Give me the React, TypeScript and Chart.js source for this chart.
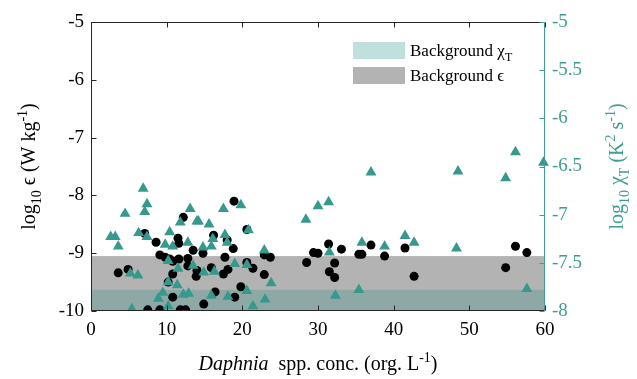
import { useEffect, useRef } from 'react';
import { Chart, registerables } from 'chart.js';

Chart.register(...registerables);

// Dissipation rate (left axis) vs. Daphnia concentration
const epsConc = [
  3.6, 4.9, 7.1, 8.6, 9.1, 9.8, 10.4, 10.8, 11.5, 11.6, 12.2, 12.8, 12.8, 13.5, 13.9, 10.8, 10.8,
  7.5, 9.1, 11.8, 12.5, 18.9, 20.6, 16.2, 18.0, 18.8, 14.8, 17.7, 20.6, 21.4, 15.9, 17.5, 18.1,
  22.9, 23.7, 22.9, 19.8, 16.4, 19.0, 14.9, 28.5, 31.4, 29.4, 30.0, 33.1, 32.2, 31.5, 32.2, 35.4,
  35.8, 37.0, 38.8, 41.5, 42.7, 56.1, 57.6, 54.8, 11.6, 10.2, 14.0,
];
const epsLog = [
  -9.34, -9.28, -8.66, -8.81, -9.03, -9.07, -9.1, -9.14, -8.74, -8.83, -8.38, -9.09, -9.22, -8.95,
  -9.4, -9.36, -9.76, -9.98, -9.98, -9.98, -9.98, -8.1, -8.59, -8.69, -8.77, -8.92, -9.0, -9.07,
  -9.16, -9.26, -9.25, -9.36, -9.28, -9.03, -9.07, -9.37, -9.58, -9.67, -9.76, -9.88, -9.16, -8.84,
  -8.99, -9.0, -8.93, -9.17, -9.32, -9.42, -9.02, -9.02, -8.86, -9.05, -8.91, -9.4, -8.88, -8.99,
  -9.25, -9.1, -9.5, -9.3,
];

// Temperature variance dissipation (right axis) vs. Daphnia concentration
const chiConc = [
  6.9, 7.4, 7.1, 4.5, 13.1, 11.8, 14.0, 2.6, 3.2, 3.6, 6.3, 7.4, 10.4, 9.8, 10.8, 12.8, 10.2, 11.5,
  13.5, 5.2, 6.2, 10.2, 11.4, 9.5, 8.9, 12.2, 12.9, 10.2, 5.4, 17.5, 19.8, 14.2, 15.6, 17.7, 16.1,
  18.0, 15.9, 14.8, 20.8, 22.9, 19.0, 20.6, 14.9, 16.3, 23.8, 20.6, 18.1, 23.0, 15.9, 21.4, 28.4,
  37.0, 30.0, 31.4, 31.5, 35.8, 38.8, 41.5, 42.7, 32.3, 35.4, 48.5, 56.1, 54.8, 59.8, 48.3, 57.6,
];
const chiLog = [
  -6.73, -6.89, -6.97, -6.99, -6.94, -7.08, -7.07, -7.23, -7.23, -7.33, -7.19, -7.23, -7.18, -7.31,
  -7.33, -7.29, -7.48, -7.56, -7.53, -7.61, -7.63, -7.7, -7.73, -7.81, -7.87, -7.83, -7.82, -7.95,
  -7.98, -6.94, -6.9, -7.07, -7.1, -7.21, -7.25, -7.29, -7.33, -7.34, -7.16, -7.37, -7.51, -7.52,
  -7.6, -7.59, -7.71, -7.79, -7.85, -7.88, -7.84, -7.95, -7.05, -6.56, -6.91, -6.87, -7.39, -7.29,
  -7.33, -7.22, -7.29, -7.84, -7.78, -6.55, -6.35, -6.62, -6.46, -7.35, -7.77,
];

// Background levels (upper edge of the shaded bands)
const bgEpsTop = -9.05;
const bgChiTop = -7.78;

const xRange = [0, 60];
const epsRange = [-10, -5];
const chiRange = [-8, -5];

const SERIF = 'Liberation Serif';
const TEAL = '#36998e';
const TEAL_AXIS = '#3e9e93';
const GRAY_BAND = '#b3b3b3';
const TEAL_BAND = '#8ea8a5';
const TEAL_SWATCH = '#bfe0dd';

Chart.defaults.font.family = SERIF;

type Seg = { t: string; it?: boolean; sub?: boolean; sup?: boolean };

function drawRich(
  ctx: CanvasRenderingContext2D,
  segs: Seg[],
  cx: number,
  baseline: number,
  size: number,
  color: string,
  align: 'center' | 'left' = 'center'
) {
  const small = Math.round(size * 0.68);
  const fonts = segs.map(
    (s) => `${s.it ? 'italic ' : ''}${s.sub || s.sup ? small : size}px "${SERIF}"`
  );
  let w = 0;
  segs.forEach((s, i) => {
    ctx.font = fonts[i];
    w += ctx.measureText(s.t).width;
  });
  let x = align === 'center' ? cx - w / 2 : cx;
  ctx.fillStyle = color;
  ctx.textAlign = 'left';
  ctx.textBaseline = 'alphabetic';
  segs.forEach((s, i) => {
    ctx.font = fonts[i];
    const dy = s.sub ? size * 0.3 : s.sup ? -size * 0.42 : 0;
    ctx.fillText(s.t, x, baseline + dy);
    x += ctx.measureText(s.t).width;
  });
}

const decorPlugin = {
  id: 'decor',
  beforeDatasetsDraw(chart: any) {
    const { ctx, chartArea: a, scales } = chart;
    const yL = scales.y;
    const yR = scales.y1;
    ctx.save();
    const gTop = yL.getPixelForValue(bgEpsTop);
    ctx.fillStyle = GRAY_BAND;
    ctx.fillRect(a.left, gTop, a.right - a.left, a.bottom - gTop);
    const tTop = yR.getPixelForValue(bgChiTop);
    ctx.fillStyle = TEAL_BAND;
    ctx.fillRect(a.left, tTop, a.right - a.left, a.bottom - tTop);
    ctx.restore();
  },
  afterDatasetsDraw(chart: any) {
    const { ctx, chartArea: a, scales } = chart;
    const x = scales.x;
    const yL = scales.y;
    const yR = scales.y1;
    ctx.save();
    ctx.lineWidth = 1;
    const L = Math.round(a.left) + 0.5;
    const R = Math.round(a.right) - 0.5;
    const T = Math.round(a.top) + 0.5;
    const B = Math.round(a.bottom) - 0.5;

    // box
    ctx.strokeStyle = '#262626';
    ctx.beginPath();
    ctx.moveTo(R, T);
    ctx.lineTo(L, T);
    ctx.lineTo(L, B);
    ctx.lineTo(R, B);
    ctx.stroke();

    // x ticks (inward)
    x.ticks.forEach((t: any) => {
      const px = Math.round(x.getPixelForValue(t.value)) + 0.5;
      ctx.beginPath();
      ctx.moveTo(px, B);
      ctx.lineTo(px, B - 5);
      ctx.moveTo(px, T);
      ctx.lineTo(px, T + 5);
      ctx.stroke();
    });
    // left ticks
    yL.ticks.forEach((t: any) => {
      const py = Math.round(yL.getPixelForValue(t.value)) + 0.5;
      ctx.beginPath();
      ctx.moveTo(L, py);
      ctx.lineTo(L + 5, py);
      ctx.stroke();
    });
    // right axis
    ctx.strokeStyle = TEAL_AXIS;
    ctx.beginPath();
    ctx.moveTo(R, T);
    ctx.lineTo(R, B);
    ctx.stroke();
    yR.ticks.forEach((t: any) => {
      const py = Math.round(yR.getPixelForValue(t.value)) + 0.5;
      ctx.beginPath();
      ctx.moveTo(R, py);
      ctx.lineTo(R - 5, py);
      ctx.stroke();
    });

    // legend
    ctx.fillStyle = TEAL_SWATCH;
    ctx.fillRect(353, 42, 52, 17);
    ctx.fillStyle = GRAY_BAND;
    ctx.fillRect(353, 67, 52, 17);
    drawRich(ctx, [{ t: 'Background ' }, { t: 'χ' }, { t: 'T', sub: true }], 410, 56, 17, '#000', 'left');
    drawRich(ctx, [{ t: 'Background ' }, { t: 'ϵ' }], 410, 81, 17, '#000', 'left');

    // x title
    drawRich(
      ctx,
      [
        { t: 'Daphnia', it: true },
        { t: '  spp. conc. (org. L' },
        { t: '-1', sup: true },
        { t: ')' },
      ],
      (a.left + a.right) / 2,
      370,
      20,
      '#000'
    );

    // left title
    ctx.save();
    ctx.translate(35, (a.top + a.bottom) / 2);
    ctx.rotate(-Math.PI / 2);
    drawRich(
      ctx,
      [
        { t: 'log' },
        { t: '10', sub: true },
        { t: ' ϵ (W kg' },
        { t: '-1', sup: true },
        { t: ')' },
      ],
      0,
      0,
      20,
      '#000'
    );
    ctx.restore();

    // right title
    ctx.save();
    ctx.translate(623, (a.top + a.bottom) / 2);
    ctx.rotate(-Math.PI / 2);
    drawRich(
      ctx,
      [
        { t: 'log' },
        { t: '10', sub: true },
        { t: ' χ' },
        { t: 'T', sub: true },
        { t: ' (K' },
        { t: '2', sup: true },
        { t: ' s' },
        { t: '-1', sup: true },
        { t: ')' },
      ],
      0,
      0,
      20,
      TEAL_AXIS
    );
    ctx.restore();
    ctx.restore();
  },
};

const tickLabel = (v: any) => String(Number(v));

export default function App() {
  const ref = useRef<HTMLCanvasElement | null>(null);

  useEffect(() => {
    const canvas = ref.current;
    if (!canvas) return;
    const chart = new Chart(canvas, {
      type: 'scatter',
      data: {
        datasets: [
          {
            label: 'chi',
            data: chiConc.map((c, i) => ({ x: c, y: chiLog[i] })),
            yAxisID: 'y1',
            pointStyle: 'triangle',
            pointRadius: 6.3,
            backgroundColor: TEAL,
            borderColor: TEAL,
            borderWidth: 0,
            clip: { left: 0, top: 0, right: 8, bottom: 0 },
          },
          {
            label: 'eps',
            data: epsConc.map((c, i) => ({ x: c, y: epsLog[i] })),
            yAxisID: 'y',
            pointStyle: 'circle',
            pointRadius: 4.5,
            backgroundColor: '#000',
            borderColor: '#000',
            borderWidth: 0,
          },
        ],
      },
      options: {
        responsive: false,
        animation: false,
        devicePixelRatio: 1,
        layout: { padding: { top: 22, left: 0, right: 0, bottom: 0 } },
        plugins: { legend: { display: false }, tooltip: { enabled: false } },
        scales: {
          x: {
            type: 'linear',
            min: xRange[0],
            max: xRange[1],
            grid: { display: false, drawTicks: false },
            border: { display: false },
            ticks: {
              stepSize: 10,
              padding: 8,
              color: '#000',
              font: { family: SERIF, size: 19 },
              callback: tickLabel,
            },
            afterFit(s: any) {
              s.height = 68;
            },
          },
          y: {
            position: 'left',
            min: epsRange[0],
            max: epsRange[1],
            grid: { display: false, drawTicks: false },
            border: { display: false },
            ticks: {
              stepSize: 1,
              padding: 7,
              color: '#000',
              font: { family: SERIF, size: 19 },
              callback: tickLabel,
            },
            afterFit(s: any) {
              s.width = 91;
            },
          },
          y1: {
            position: 'right',
            min: chiRange[0],
            max: chiRange[1],
            grid: { display: false, drawTicks: false },
            border: { display: false },
            ticks: {
              stepSize: 0.5,
              padding: 7,
              color: TEAL_AXIS,
              font: { family: SERIF, size: 19 },
              callback: tickLabel,
            },
            afterFit(s: any) {
              s.width = 92;
            },
          },
        },
      },
      plugins: [decorPlugin],
    });
    return () => chart.destroy();
  }, []);

  return (
    <div style={{ position: 'fixed', left: 0, top: 0, width: 637, height: 379, background: '#fff' }}>
      <canvas ref={ref} width={637} height={379} style={{ display: 'block' }} />
    </div>
  );
}
